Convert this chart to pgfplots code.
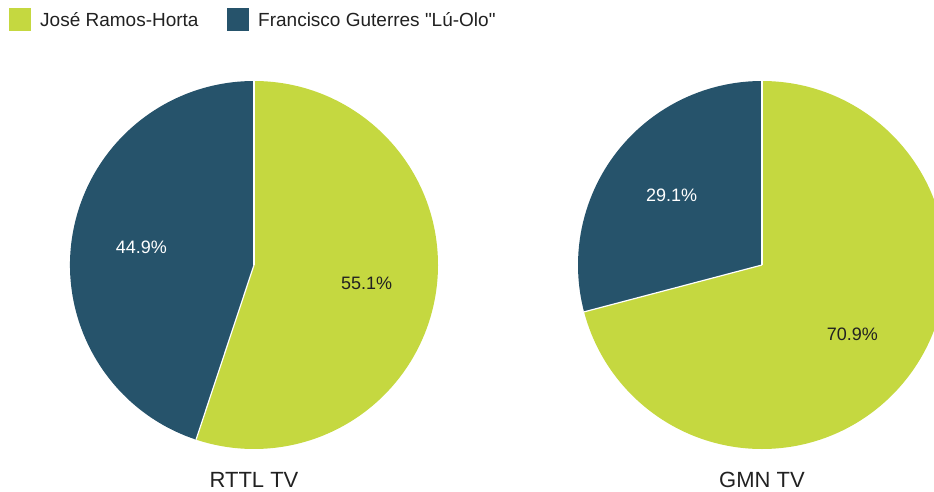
\documentclass[border=0pt]{standalone}
\usepackage{pgfplots}
\pgfplotsset{compat=1.18}
\usepackage{fontspec}
\setmainfont{Liberation Sans}
\newfontfamily\nomap{Liberation Sans}
\definecolor{jose}{RGB}{197,216,64}
\definecolor{lu}{RGB}{38,83,107}
\definecolor{txt}{RGB}{33,33,33}
% cx, cy (axis units = pt), value Jose, value Lu-Olo, title
\newcommand{\piechart}[5]{%
  \fill[jose] (axis cs:#1,#2) -- ++(90:184pt) arc[start angle=90, delta angle={-3.6*#3}, radius=184pt] -- cycle;
  \fill[lu] (axis cs:#1,#2) -- ++({90-3.6*#3}:184pt) arc[start angle={90-3.6*#3}, delta angle={-3.6*#4}, radius=184pt] -- cycle;
  \draw[white, line width=1.2pt] (axis cs:#1,#2) -- ++(90:184pt);
  \draw[white, line width=1.2pt] (axis cs:#1,#2) -- ++({90-3.6*#3}:184pt);
  \node[font=\fontsize{18}{20}\selectfont, text=txt, inner sep=0pt] at ([shift={({90-1.8*#3}:114pt)}]axis cs:#1,#2) {#3\%};
  \node[font=\fontsize{18}{20}\selectfont, text=white, inner sep=0pt] at ([shift={({90-3.6*#3-1.8*#4}:114pt)}]axis cs:#1,#2) {#4\%};
  \node[font=\fontsize{22}{24}\selectfont, text=txt, anchor=base, inner sep=0pt] at (axis cs:#1,4) {#5};
}
\begin{document}
\begin{tikzpicture}
\begin{axis}[
  scale only axis, width=934pt, height=491pt,
  xmin=0, xmax=934, ymin=0, ymax=491,
  hide axis, clip=true]
\addplot[draw=none, forget plot] coordinates {(0,0) (934,491)};
\piechart{254}{226}{55.1}{44.9}{RTTL TV}
\piechart{762}{226}{70.9}{29.1}{GMN TV}
% legend
\fill[jose] (axis cs:9,460) rectangle (axis cs:31,483);
\node[font=\fontsize{19}{21}\selectfont, text=txt, anchor=base west, inner sep=0pt] at (axis cs:40,464.5) {José Ramos-Horta};
\fill[lu] (axis cs:227,460) rectangle (axis cs:249,483);
\node[font=\fontsize{19}{21}\selectfont, text=txt, anchor=base west, inner sep=0pt] at (axis cs:258,464.5) {\nomap Francisco Guterres "Lú-Olo"};
\end{axis}
\end{tikzpicture}
\end{document}
